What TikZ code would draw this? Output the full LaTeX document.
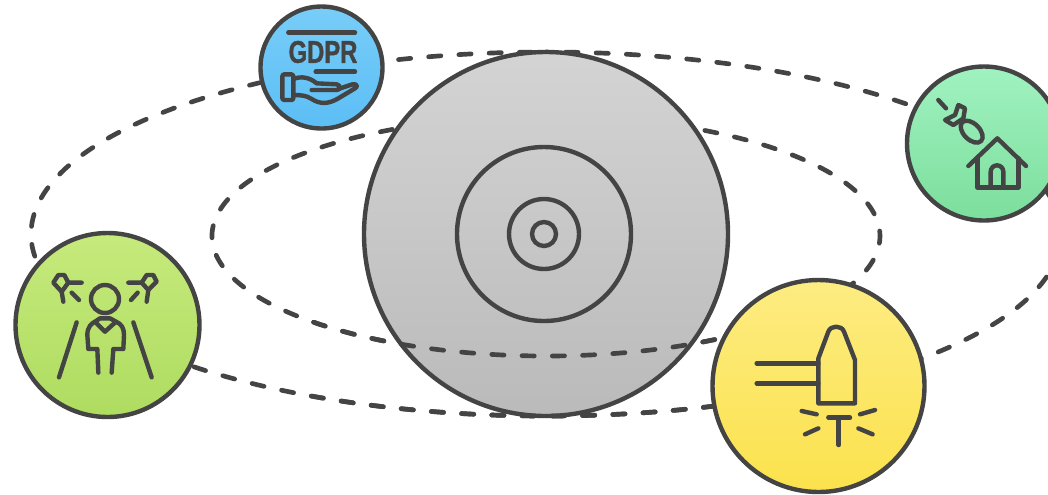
\documentclass[tikz,border=0pt]{standalone}
\usepackage{fontspec}
\setmainfont{Liberation Sans}
\newfontfamily\gdprfont{Liberation Sans}[BoldFeatures={FakeBold=1.5}]
\definecolor{ink}{HTML}{444444}
\definecolor{bluetop}{RGB}{120,205,248}
\definecolor{bluebot}{RGB}{92,190,245}
\definecolor{mint}{RGB}{160,242,192}
\definecolor{mintbot}{RGB}{124,222,156}
\definecolor{limetop}{RGB}{198,234,124}
\definecolor{limebot}{RGB}{174,220,96}
\definecolor{yeltop}{RGB}{253,236,130}
\definecolor{yelbot}{RGB}{251,226,76}
\tikzset{
  x=0.75pt,y=-0.75pt,
  ring/.style={circle,draw=ink,line width=3.3pt,inner sep=0pt,outer sep=0pt,minimum size=#1*1.5pt},
  orbit/.style={draw=ink,line width=3.5pt,line cap=round,dash pattern=on 9.2pt off 13.5pt},
  icon/.style={draw=ink,line width=3.3pt,line cap=round,line join=round},
  zoomed/.style={x=0.25pt,y=-0.25pt}
}
\newcommand{\outerorbit}{(522,415.80) arc[start angle=92.67,delta angle=-182.67,x radius=515,y radius=182] (504,415.39) arc[start angle=94.68,delta angle=175.32,x radius=515,y radius=182]}
\newcommand{\innerorbit}{(522,355.69) arc[start angle=94.12,delta angle=-184.12,x radius=334,y radius=120] (504,355.05) arc[start angle=97.22,delta angle=172.78,x radius=334,y radius=120]}
\begin{document}
\begin{tikzpicture}
\useasboundingbox (0,0) rectangle (1048,494);
\fill[white] (0,0) rectangle (1048,494);
% orbits, upper parts pass behind the disc
\path[orbit] \outerorbit;
\path[orbit] \innerorbit;
% central disc
\node[ring=182,top color=black!17,bottom color=black!27] (disc) at (546,234) {};
\node[ring=87] (discmid) at (544,234) {};
\node[ring=35] (discsmall) at (544,234) {};
\node[ring=12] (disccore) at (544,234) {};
% lower parts of the orbits pass in front of the disc
\begin{scope}
\clip (300,236) rectangle (800,494);
\path[orbit] \outerorbit;
\path[orbit] \innerorbit;
\end{scope}
% satellites
\node[ring=61,top color=bluetop,bottom color=bluebot] (gdpr) at (321.5,67.5) {};
\node[ring=77,top color=mint,bottom color=mintbot] (house) at (984,143.5) {};
\node[ring=92,top color=limetop,bottom color=limebot] (person) at (107.5,325) {};
\node[ring=106,top color=yeltop,bottom color=yelbot] (hammer) at (818.5,386) {};
% GDPR icon
\node[text=ink,inner sep=0pt,font=\gdprfont\bfseries,xscale=0.76] (gdprword) at (323,52) {\fontsize{23.5pt}{23.5pt}\selectfont GDPR};
\begin{scope}[shift={(250,0)},zoomed]
\draw[icon] (115,98) -- (315,98);
\draw[icon] (197,215) -- (315,215);
\end{scope}
\begin{scope}[shift={(275,65)},zoomed]
\draw[icon,rounded corners=1.5pt] (22,28) rectangle (55,105);
\draw[icon] (55,42) .. controls (80,32) and (105,38) .. (125,55) -- (185,58) .. controls (197,60) and (197,75) .. (185,75) -- (110,75);
\draw[icon] (190,72) -- (232,58) .. controls (245,55) and (250,65) .. (240,70) -- (190,100) .. controls (160,118) and (135,118) .. (110,102) .. controls (95,92) and (80,90) .. (55,90);
\end{scope}
% house icon
\begin{scope}[shift={(900,60)},zoomed]
\draw[icon] (205,318) -- (292,235) -- (378,318);
\draw[icon] (232,295) -- (232,382) -- (355,382) -- (355,295);
\draw[icon] (272,382) -- (272,335) arc[start angle=180,end angle=360,radius=19] -- (310,382);
\end{scope}
\begin{scope}[shift={(930,90)},zoomed]
\draw[icon] (25,30) -- (48,55);
\draw[icon] (45,90) -- (75,75) -- (85,45) -- (105,55) -- (100,85) -- (70,105) -- cycle;
\draw[icon,rotate around={-45:(125,125)}] (125,125) ellipse [x radius=40,y radius=24];
\end{scope}
% person icon
\begin{scope}[shift={(10,225)},zoomed]
\draw[icon] (285,222) circle [radius=42];
\draw[icon] (265,443) -- (262,372) -- (235,372) -- (232,330) .. controls (232,305) and (245,295) .. (255,290) -- (285,320) -- (318,290) .. controls (335,297) and (342,310) .. (342,330) -- (340,372) -- (310,372) -- (305,443);
\draw[icon] (255,290) -- (270,280) -- (300,280) -- (318,290);
\draw[icon] (200,292) -- (147,457);
\draw[icon] (370,292) -- (425,457);
\end{scope}
\begin{scope}[shift={(45,260)},zoomed]
\draw[icon] (110,68) -- (70,68) -- (58,45) -- (40,45) -- (25,68) -- (50,95) -- (55,125);
\draw[icon] (70,68) -- (50,95);
\draw[icon] (80,98) -- (102,120);
\draw[icon] (250,68) -- (290,68) -- (305,45) -- (325,45) -- (335,65) -- (310,90) -- (305,125);
\draw[icon] (290,68) -- (310,90);
\draw[icon] (258,120) -- (278,98);
\end{scope}
% hammer icon
\begin{scope}[shift={(700,270)},zoomed]
\draw[icon] (355,265) -- (385,185) .. controls (392,165) and (425,165) .. (432,185) -- (465,270) -- (465,400) -- (355,400) -- cycle;
\draw[icon] (170,280) -- (355,280);
\draw[icon] (170,340) -- (355,340);
\draw[icon] (385,443) -- (450,443);
\draw[icon] (416,443) -- (416,525);
\draw[icon] (305,423) -- (350,433);
\draw[icon] (480,433) -- (525,420);
\draw[icon] (315,493) -- (355,475);
\draw[icon] (475,475) -- (518,493);
\end{scope}
\end{tikzpicture}
\end{document}
